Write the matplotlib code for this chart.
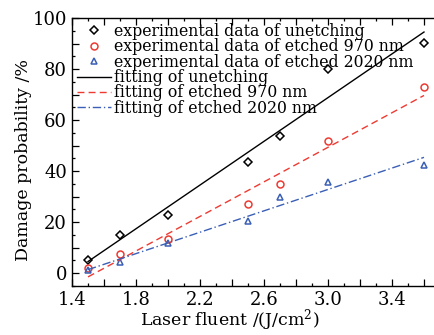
import matplotlib
matplotlib.use("Agg")
import matplotlib.pyplot as plt
import matplotlib.ticker as plticker
import numpy as np

plt.rcParams.update({
    'font.family': 'DejaVu Serif',
    'mathtext.fontset': 'dejavuserif',
    'xtick.direction': 'in',
    'ytick.direction': 'in',
})

# laser fluence (J/cm^2)
fluence = [1.5, 1.7, 2.0, 2.5, 2.7, 3.0, 3.6]
# damage probability (%)
unetched = [5.0, 15.0, 23.0, 43.5, 53.7, 80.0, 90.2]
etched_970 = [2.0, 7.5, 13.5, 27.0, 35.0, 52.0, 73.0]
etched_2020 = [1.2, 4.3, 12.0, 20.4, 30.0, 35.7, 42.4]
x_labels = [1.4, 1.8, 2.2, 2.6, 3.0, 3.4]
y_labels = [0, 20, 40, 60, 80, 100]

series = [
    ("unetching", unetched, 'D', 'black', '-'),
    ("etched 970 nm", etched_970, 'o', '#ee3a32', (0, (5, 3))),
    ("etched 2020 nm", etched_2020, '^', '#3a5fb5', (0, (6, 2, 1, 2))),
]

fig = plt.figure(figsize=(4.35, 3.35), dpi=100)
ax = fig.add_axes([72 / 435, 49 / 335, 384 / 435, 268 / 335])

x = np.array(fluence)
for name, vals, mk, col, _ in series:
    ax.plot(x, vals, linestyle='none', marker=mk, markersize=5 if mk != 'D' else 4.5,
            markerfacecolor='none', markeredgecolor=col, markeredgewidth=1.1,
            label="experimental data of %s" % name)
for name, vals, mk, col, ls in series:
    k, b = np.polyfit(x, vals, 1)
    xs = np.array([x[0], x[-1]])
    ax.plot(xs, k * xs + b, color=col, linestyle=ls, linewidth=1.0,
            label="fitting of %s" % name)

ax.set_xlim(1.4, 3.8)
ax.set_ylim(-5, 100)

ax.xaxis.set_major_locator(plticker.MultipleLocator(0.2))
ax.xaxis.set_minor_locator(plticker.MultipleLocator(0.1))
ax.yaxis.set_major_locator(plticker.MultipleLocator(10))
ax.yaxis.set_minor_locator(plticker.MultipleLocator(5))


def fmt_x(v, pos):
    for lab in x_labels:
        if abs(v - lab) < 1e-6:
            return "%.1f" % lab
    return ""


def fmt_y(v, pos):
    for lab in y_labels:
        if abs(v - lab) < 1e-6:
            return "%d" % lab
    return ""


ax.xaxis.set_major_formatter(plticker.FuncFormatter(fmt_x))
ax.yaxis.set_major_formatter(plticker.FuncFormatter(fmt_y))
ax.tick_params(which='both', top=True, labelsize=13, width=0.9)
ax.tick_params(which='major', length=5)
ax.tick_params(which='minor', length=2.5)
for s in ax.spines.values():
    s.set_linewidth(1.0)

ax.set_xlabel("Laser fluent /(J/cm$^2$)", fontsize=12.5)
ax.set_ylabel("Damage probability /%", fontsize=12.5)
ax.xaxis.set_label_coords((230 - 72) / 384, -0.08)
ax.yaxis.set_label_coords(-0.105, 0.47)

ax.legend(loc='upper left', bbox_to_anchor=(0.0, 1.0), frameon=False, fontsize=11.3,
          handlelength=2.2, handletextpad=0.2, labelspacing=-0.1, borderaxespad=0.1,
          borderpad=0.2)

fig.savefig("out.png", dpi=100)
